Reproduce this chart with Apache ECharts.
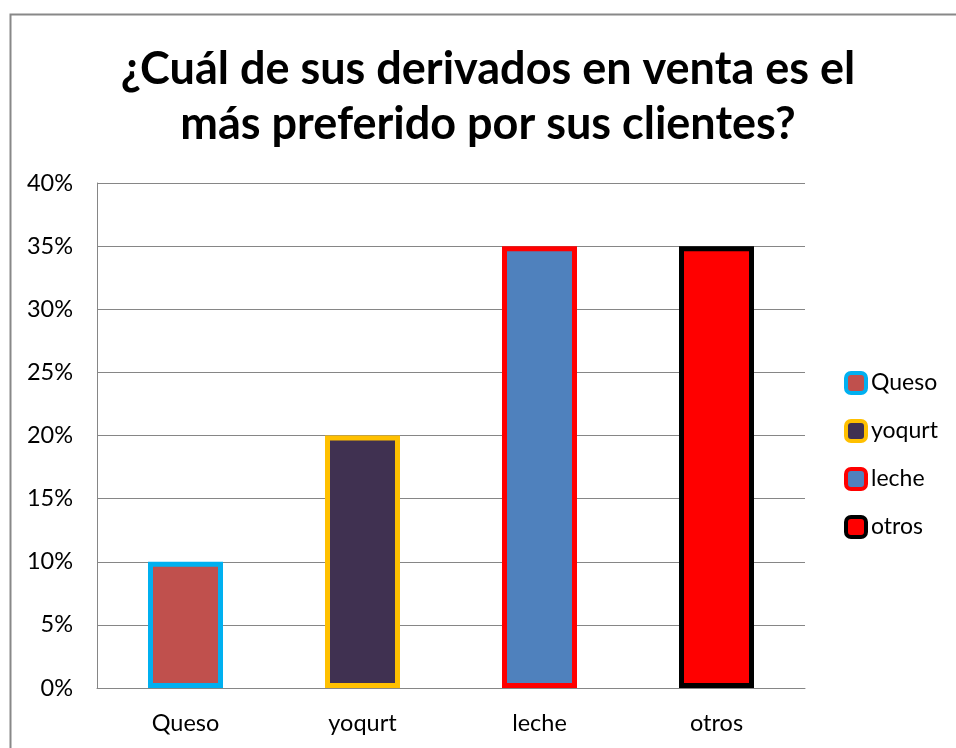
<!DOCTYPE html>
<html>
<head>
<meta charset="utf-8">
<script src="https://cdn.jsdelivr.net/npm/echarts@6/dist/echarts.min.js"></script>
<style>
html,body{margin:0;padding:0;background:#fff;}
#chart{width:956px;height:748px;}
</style>
</head>
<body>
<div id="chart"></div>
<script>
const titleText = "¿Cuál de sus derivados en venta es el\nmás preferido por sus clientes?";
const categories = ["Queso", "yoqurt", "leche", "otros"];
const values = [0.10, 0.20, 0.35, 0.35];
const fillColors = ["#C0504D", "#403151", "#4F81BD", "#FF0000"];
const borderColors = ["#00B0F0", "#FFC000", "#FF0000", "#000000"];
const yTicks = [0, 0.05, 0.10, 0.15, 0.20, 0.25, 0.30, 0.35, 0.40];

const FONT = "Lato";
const chart = echarts.init(document.getElementById('chart'), null, {renderer: 'canvas'});

const series = categories.map((name, i) => ({
  name: name,
  type: 'bar',
  stack: 'all',
  barWidth: 75,
  data: categories.map((c, j) => (j === i ? values[i] : null)),
  itemStyle: {color: fillColors[i], borderColor: borderColors[i], borderWidth: 5},
  emphasis: {disabled: true},
  animation: false
}));

chart.setOption({
  animation: false,
  textStyle: {fontFamily: FONT},
  graphic: [{
    type: 'rect',
    left: 8, top: 12,
    shape: {width: 1000, height: 800},
    style: {fill: 'none', stroke: '#888888', lineWidth: 2},
    silent: true
  }],
  title: {
    text: titleText,
    left: 483,
    top: 37,
    textAlign: 'center',
    textStyle: {fontFamily: FONT, fontWeight: 'bold', fontSize: 45, lineHeight: 55, color: '#000'}
  },
  legend: {
    orient: 'vertical',
    left: 839,
    top: 366,
    itemWidth: 20,
    itemHeight: 20,
    itemGap: 24,
    icon: 'roundRect',
    textStyle: {fontFamily: FONT, fontSize: 23, lineHeight: 20, color: '#000', padding: [0, 0, 0, 0]},
    data: categories.map((c, i) => ({
      name: c,
      itemStyle: {color: fillColors[i], borderColor: borderColors[i], borderWidth: 4}
    }))
  },
  grid: {left: 97, top: 183, right: 151, bottom: 60, containLabel: false},
  xAxis: {
    type: 'category',
    data: categories,
    axisLine: {show: true, lineStyle: {color: '#868686', width: 1}},
    axisTick: {show: false},
    axisLabel: {fontFamily: FONT, fontSize: 23.5, color: '#000', margin: 23}
  },
  yAxis: {
    type: 'value',
    min: yTicks[0],
    max: yTicks[yTicks.length - 1],
    interval: 0.05,
    axisLine: {show: true, lineStyle: {color: '#868686', width: 1}},
    axisTick: {show: false},
    splitLine: {show: true, lineStyle: {color: '#868686', width: 1}},
    axisLabel: {
      fontFamily: FONT, fontSize: 23.5, color: '#000', margin: 24,
      formatter: v => Math.round(v * 100) + '%'
    }
  },
  series: series
});
</script>
</body>
</html>
